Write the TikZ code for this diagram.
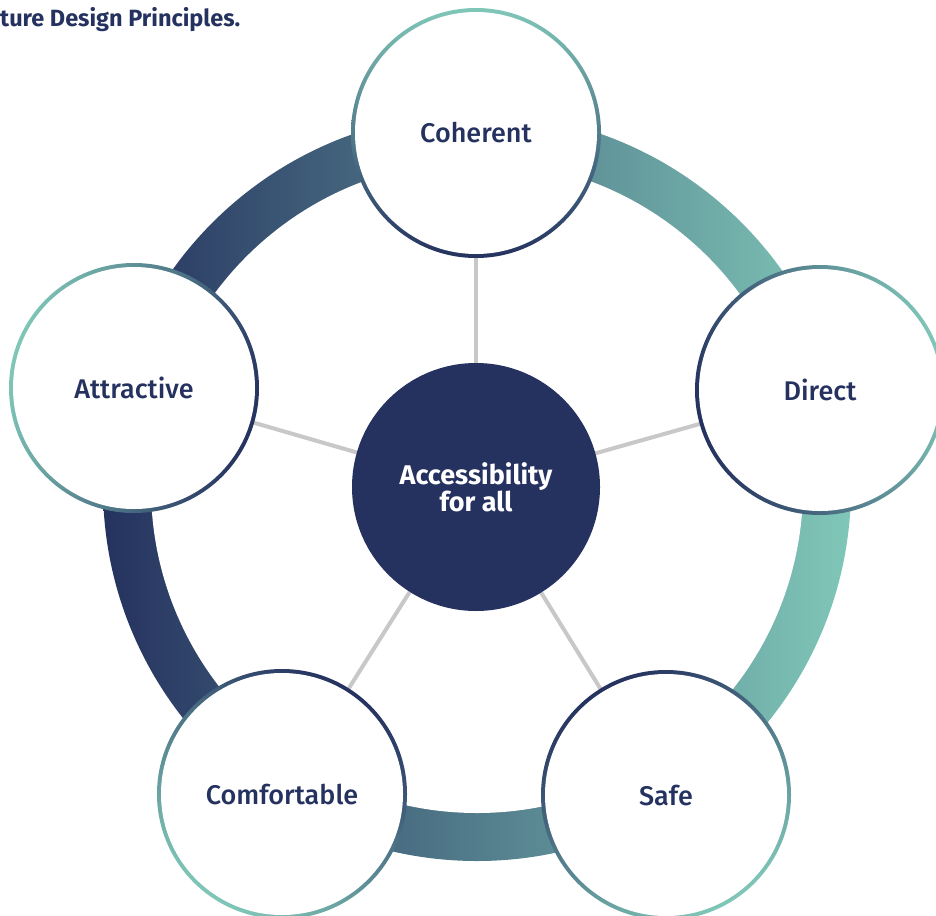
\documentclass[tikz,border=0pt]{standalone}
\usepackage{fontspec}
\setmainfont{Fira Sans}
\newfontfamily\labelfont{Fira Sans Medium}
\definecolor{navy}{HTML}{25325F}
\definecolor{seafoam}{HTML}{80C7B8}
\definecolor{spokegrey}{HTML}{C8C8C8}
\pgfdeclarelayer{back}
\pgfsetlayers{back,main}
\begin{document}
\begin{tikzpicture}[x=1pt,y=-1pt,
  principle/.style={circle, minimum size=250pt, inner sep=0pt, outer sep=0pt,
    top color=seafoam, bottom color=navy,
    path picture={\fill[white] (path picture bounding box.center) circle (121pt);},
    font=\labelfont\fontsize{27}{30}\selectfont, text=navy},
  hubstyle/.style={circle, minimum size=248pt, inner sep=0pt, outer sep=0pt,
    fill=navy, text=white, align=center,
    font=\bfseries\fontsize{27}{27}\selectfont},
  spoke/.style={draw=spokegrey, line width=4pt}]
\useasboundingbox (0,0) rectangle (936,915);
\clip (0,0) rectangle (936,915);

% caption
\node[anchor=base west, inner sep=0pt, text=navy,
  font=\bfseries\fontsize{23.5}{26}\selectfont] (caption) at (0,27) {ture Design Principles.};

% central principle
\node[hubstyle] (hub) at (476,487) {Accessibility\\for all};

% five design principles, border gradient dark towards the hub
\node[principle, shading angle=0]      (coh) at (476,133) {Coherent};
\node[principle, shading angle=-74.3]  (dir) at (820,390) {Direct};
\node[principle, shading angle=-148.3] (saf) at (666,795) {Safe};
\node[principle, shading angle=147.7]  (com) at (282,794) {Comfortable};
\node[principle, shading angle=73.9]   (att) at (134,388) {Attractive};

\begin{pgfonlayer}{back}
  % connecting ring with left-to-right gradient
  \shade[left color=navy, right color=seafoam] (477,487) circle (374pt);
  \fill[white] (477,487) circle (326pt);
  % spokes
  \foreach \p in {coh,dir,saf,com,att}
    \draw[spoke] (hub) -- (\p);
\end{pgfonlayer}
\end{tikzpicture}
\end{document}
